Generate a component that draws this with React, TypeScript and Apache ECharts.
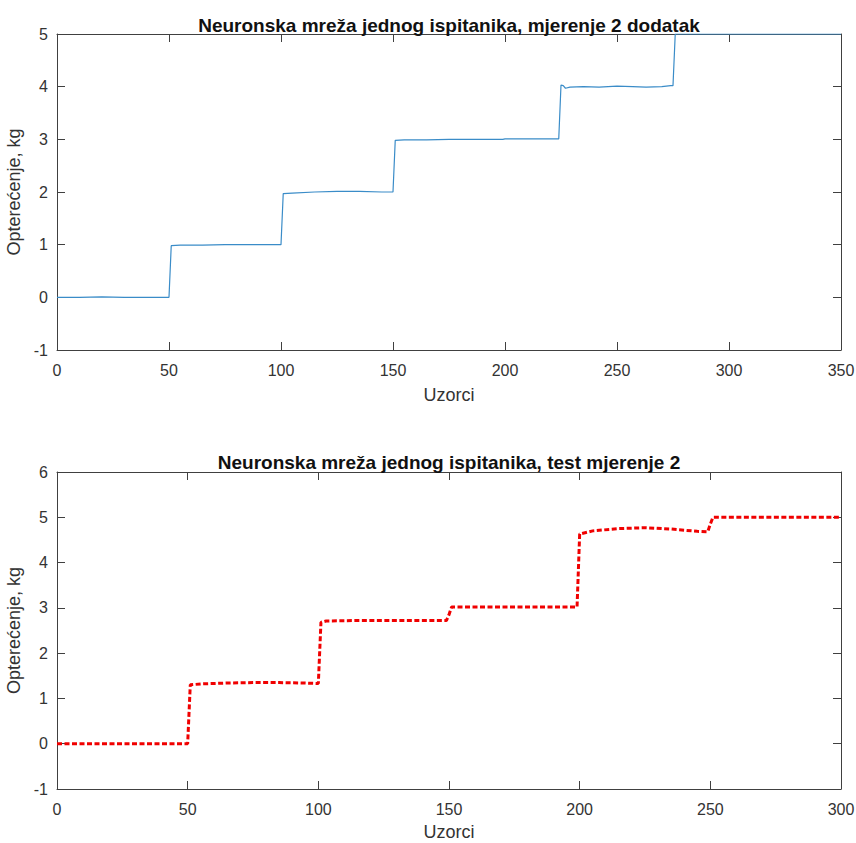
import React, { useEffect, useRef } from "react";
import * as echarts from "echarts";

const title1 = "Neuronska mreža jednog ispitanika, mjerenje 2 dodatak";
const title2 = "Neuronska mreža jednog ispitanika, test mjerenje 2";
const xName = "Uzorci";
const yName = "Opterećenje, kg";

const topX = [0, 10, 20, 30, 40, 50, 51, 55, 65, 75, 85, 95, 100, 101, 105, 115, 125, 135, 145, 150, 151, 155, 165, 175, 185, 195, 199, 200, 210, 220, 224, 225, 226, 227, 229, 235, 242, 250, 257, 263, 270, 274, 275, 276, 290, 310, 330, 350];
const topY = [0, 0, 0.01, 0, 0, 0, 0.98, 0.99, 0.99, 1.0, 1.0, 1.0, 1.0, 1.97, 1.98, 2.0, 2.01, 2.01, 2.0, 2.0, 2.98, 2.99, 2.99, 3.0, 3.0, 3.0, 3.0, 3.01, 3.01, 3.01, 3.01, 4.03, 4.02, 3.97, 3.99, 4.0, 3.99, 4.01, 4.0, 3.99, 4.0, 4.02, 4.02, 5.0, 5.0, 5.0, 5.0, 5.0];

const botX = [0, 25, 50, 51, 55, 65, 75, 85, 95, 100, 101, 103, 115, 130, 149, 150, 151, 165, 185, 199, 200, 205, 215, 225, 235, 245, 249, 250, 251, 265, 285, 300];
const botY = [0, 0, 0, 1.30, 1.32, 1.34, 1.35, 1.35, 1.34, 1.33, 2.68, 2.71, 2.72, 2.72, 2.72, 2.85, 3.02, 3.02, 3.02, 3.02, 4.63, 4.70, 4.75, 4.77, 4.74, 4.69, 4.68, 4.85, 5.0, 5.0, 5.0, 5.0];

const topXRange = [0, 350];
const topYRange = [-1, 5];
const botXRange = [0, 300];
const botYRange = [-1, 6];

const FONT = "'Liberation Sans', Arial, Helvetica, sans-serif";
const AXIS = "#404040";

function xAxis(gridIndex: number, range: number[], position: string, main: boolean, nameGap: number) {
  return {
    type: "value",
    gridIndex,
    min: range[0],
    max: range[1],
    interval: 50,
    position,
    name: main ? xName : "",
    nameLocation: "middle",
    nameGap,
    nameTextStyle: { fontFamily: FONT, fontSize: 18, color: "#333" },
    axisLine: { show: true, onZero: false, lineStyle: { color: AXIS, width: 1 } },
    axisTick: { show: true, inside: true, length: 8, lineStyle: { color: AXIS } },
    axisLabel: { show: main, fontFamily: FONT, fontSize: 16, color: "#333", margin: 12 },
    splitLine: { show: false },
  };
}

function yAxis(gridIndex: number, range: number[], position: string, main: boolean) {
  return {
    type: "value",
    gridIndex,
    min: range[0],
    max: range[1],
    interval: 1,
    position,
    name: main ? yName : "",
    nameLocation: "middle",
    nameGap: 28,
    nameTextStyle: { fontFamily: FONT, fontSize: 18, color: "#333" },
    axisLine: { show: true, onZero: false, lineStyle: { color: AXIS, width: 1 } },
    axisTick: { show: true, inside: true, length: 8, lineStyle: { color: AXIS } },
    axisLabel: { show: main, fontFamily: FONT, fontSize: 16, color: "#333", margin: 9 },
    splitLine: { show: false },
  };
}

export default function App() {
  const ref = useRef<HTMLDivElement>(null);
  useEffect(() => {
    if (!ref.current) return;
    const chart = echarts.init(ref.current, undefined, { renderer: "svg" });
    chart.setOption({
      animation: false,
      backgroundColor: "#ffffff",
      title: [
        {
          text: title1,
          left: 444,
          top: 11,
          textAlign: "center",
          textStyle: { fontFamily: FONT, fontSize: 19, fontWeight: "bold", color: "#111" },
        },
        {
          text: title2,
          left: 444,
          top: 448,
          textAlign: "center",
          textStyle: { fontFamily: FONT, fontSize: 19, fontWeight: "bold", color: "#111" },
        },
      ],
      grid: [
        { left: 57, top: 34, width: 784, height: 316, outerBoundsMode: "none", containLabel: false },
        { left: 57, top: 472, width: 784, height: 317, outerBoundsMode: "none", containLabel: false },
      ],
      xAxis: [
        xAxis(0, topXRange, "bottom", true, 36),
        xAxis(0, topXRange, "top", false, 36),
        xAxis(1, botXRange, "bottom", true, 34),
        xAxis(1, botXRange, "top", false, 34),
      ],
      yAxis: [
        yAxis(0, topYRange, "left", true),
        yAxis(0, topYRange, "right", false),
        yAxis(1, botYRange, "left", true),
        yAxis(1, botYRange, "right", false),
      ],
      series: [
        {
          type: "line",
          xAxisIndex: 0,
          yAxisIndex: 0,
          data: topX.map((x, i) => [x, topY[i]]),
          showSymbol: false,
          lineStyle: { color: "#3a8cc8", width: 1.2 },
        },
        {
          type: "line",
          xAxisIndex: 2,
          yAxisIndex: 2,
          data: botX.map((x, i) => [x, botY[i]]),
          showSymbol: false,
          lineStyle: { color: "#f00000", width: 3, type: [5, 2.5] },
        },
      ],
    });
    return () => chart.dispose();
  }, []);
  return (
    <div
      ref={ref}
      style={{ position: "fixed", left: 0, top: 0, width: 856, height: 843, background: "#fff" }}
    />
  );
}
